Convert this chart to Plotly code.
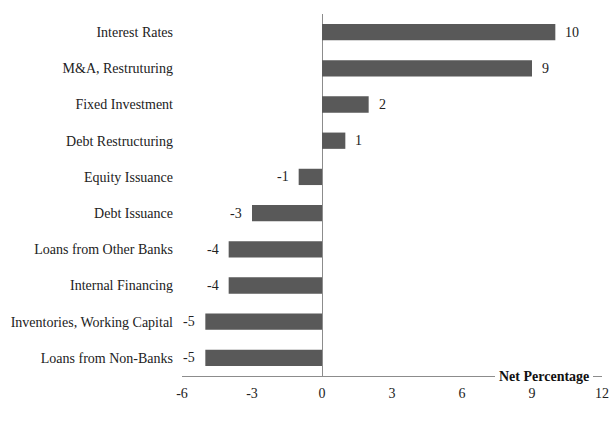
import plotly.graph_objects as go

categories = [
    "Interest Rates",
    "M&A, Restruturing",
    "Fixed Investment",
    "Debt Restructuring",
    "Equity Issuance",
    "Debt Issuance",
    "Loans from Other Banks",
    "Internal Financing",
    "Inventories, Working Capital",
    "Loans from Non-Banks",
]
net_pct = [10, 9, 2, 1, -1, -3, -4, -4, -5, -5]
x_ticks = [-6, -3, 0, 3, 6, 9, 12]

FONT = "Liberation Serif"
BAR = "#595959"

fig = go.Figure(
    go.Bar(
        x=net_pct,
        y=categories,
        orientation="h",
        marker=dict(color=BAR, line=dict(width=0)),
        width=0.45,
        hoverinfo="x+y",
    )
)

# value labels beside each bar
for c, v in zip(categories, net_pct):
    fig.add_annotation(
        x=v, y=c, text=str(v), showarrow=False,
        xanchor="left" if v >= 0 else "right",
        xshift=8 if v >= 0 else -8,
        font=dict(family=FONT, size=14, color="#222"),
    )

# axis title sitting on the bottom axis line
fig.add_annotation(
    x=11.62, y=0, xref="x", yref="paper", yanchor="middle", xanchor="right",
    text="<b>Net Percentage</b>", showarrow=False,
    bgcolor="white", borderpad=1, borderwidth=3, bordercolor="white",
    font=dict(family=FONT, size=14, color="#111"),
)

fig.update_layout(
    width=614, height=427,
    margin=dict(l=182, r=12, t=14, b=51, autoexpand=False),
    plot_bgcolor="white", paper_bgcolor="white",
    showlegend=False,
    font=dict(family=FONT, size=14, color="#222"),
    xaxis=dict(
        range=[-6, 12], tickvals=x_ticks, ticktext=[str(t) for t in x_ticks],
        showgrid=False, zeroline=True, zerolinecolor="#8c8c8c", zerolinewidth=1,
        showline=True, linecolor="#8c8c8c", linewidth=1, ticks="",
        automargin=False, ticklabelstandoff=4,
        tickfont=dict(family=FONT, size=14, color="#222"),
    ),
    yaxis=dict(
        autorange="reversed", showgrid=False, zeroline=False, showline=False,
        ticks="", ticklabelstandoff=8, automargin=False,
        tickfont=dict(family=FONT, size=14, color="#222"),
    ),
)

fig.write_html("out.html")
